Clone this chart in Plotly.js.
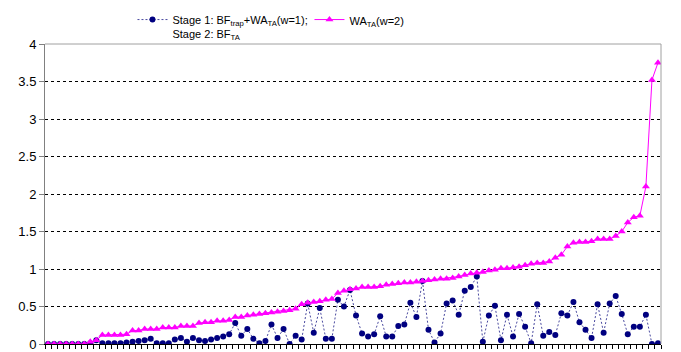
<!DOCTYPE html>
<html>
<head>
<meta charset="utf-8">
<script src="https://cdn.plot.ly/plotly-3.0.1.min.js"></script>
<style>
html,body{margin:0;padding:0;background:#fff;}
#chart{width:681px;height:352px;}
</style>
</head>
<body>
<div id="chart"></div>
<script>
const stage1Values = [
  0,0,0,0,0,0,0,
  0.01,0.05,0.01,0.01,0.01,0.01,0.02,0.03,0.04,0.05,0.07,0.01,0.01,0.01,0.06,0.08,0.03,0.08,0.05,0.04,0.06,0.08,0.10,0.13,0.28,0.11,0.20,0.07,0.01,
  0.04,0.26,0.08,0.20,0.00,0.11,0.06,0.54,0.15,0.48,0.07,0.07,0.59,0.50,0.72,0.38,0.14,0.10,0.13,0.37,0.10,0.10,0.24,0.26,0.55,0.36,0.84,0.19,0.02,0.14,
  0.54,0.58,0.39,0.71,0.76,0.90,0.03,0.38,0.51,0.05,0.39,0.10,0.40,0.23,0.01,0.53,0.11,0.16,0.12,0.41,0.38,0.56,0.29,0.19,0.08,0.53,0.15,0.54,0.64,0.40,
  0.13,0.23,0.23,0.39,0.00,0.01
];
const wa2Values = [
  0,0,0,0,0,0,0,
  0.03,0.05,0.12,0.12,0.12,0.12,0.13,0.18,0.18,0.20,0.20,0.20,0.22,0.22,0.22,0.24,0.24,0.24,0.28,0.29,0.29,0.31,0.31,0.32,0.36,0.36,0.38,0.39,0.40,
  0.41,0.42,0.43,0.44,0.45,0.47,0.53,0.55,0.56,0.57,0.59,0.60,0.68,0.71,0.73,0.74,0.76,0.76,0.76,0.77,0.79,0.80,0.81,0.82,0.82,0.83,0.84,0.85,0.86,0.87,
  0.87,0.88,0.90,0.92,0.94,0.95,0.96,0.98,0.99,1.01,1.01,1.02,1.03,1.05,1.07,1.08,1.08,1.10,1.15,1.19,1.30,1.35,1.36,1.36,1.37,1.40,1.40,1.40,1.44,1.50,
  1.62,1.69,1.71,2.10,3.52,3.75
];
const categories = stage1Values.map((_, i) => i + 1);
const yTickValues = [0,0.5,1,1.5,2,2.5,3,3.5,4];
const yTickLabels = ["0","0.5","1","1.5","2","2.5","3","3.5","4"];
const seriesNames = [
  "Stage 1: BF<sub>trap</sub>+WA<sub>TA</sub>(w=1);<br>Stage 2: BF<sub>TA</sub>",
  "WA<sub>TA</sub>(w=2)"
];

const font = "Arial, 'Liberation Sans', sans-serif";

const traces = [
  {
    x: categories, y: stage1Values, name: seriesNames[0],
    type: 'scatter', mode: 'lines+markers',
    line: {color: '#4a4aa0', width: 1, dash: '2px,2px'},
    marker: {color: '#000080', size: 6, symbol: 'circle'}
  },
  {
    x: categories, y: wa2Values, name: seriesNames[1],
    type: 'scatter', mode: 'lines+markers',
    line: {color: '#FF00FF', width: 1},
    marker: {color: '#FF00FF', size: 7, symbol: 'triangle-up'}
  }
];

const layout = {
  width: 681, height: 352,
  margin: {l: 45, r: 20, t: 44, b: 8, autoexpand: false},
  paper_bgcolor: '#ffffff', plot_bgcolor: '#ffffff',
  font: {family: font, size: 13, color: '#000'},
  showlegend: true,
  legend: {
    orientation: 'h', x: 0.142, y: 1.127, xanchor: 'left', yanchor: 'top',
    valign: 'top', font: {family: font, size: 11, color: '#000'},
    bgcolor: 'rgba(0,0,0,0)', itemwidth: 30, tracegroupgap: 0,
    entrywidth: 132
  },
  xaxis: {
    range: [0.5, categories.length + 0.5],
    showgrid: false, zeroline: false,
    showline: true, linecolor: '#000', linewidth: 1,
    ticks: 'outside', ticklen: 4, tickcolor: '#000', tickwidth: 1,
    tickmode: 'linear', tick0: 0.5, dtick: 1,
    showticklabels: false
  },
  yaxis: {
    range: [0, 4], tickmode: 'array', tickvals: yTickValues, ticktext: yTickLabels,
    showgrid: true, gridcolor: '#000', gridwidth: 1, griddash: 'dot',
    zeroline: false, showline: true, linecolor: '#808080', linewidth: 1,
    ticks: 'outside', ticklen: 5, tickcolor: '#808080',
    tickfont: {family: font, size: 13, color: '#000'}
  },
  shapes: [
    {type: 'line', xref: 'paper', yref: 'paper', x0: 0, x1: 1, y0: 1, y1: 1, line: {color: '#a0a0a0', width: 1}},
    {type: 'line', xref: 'paper', yref: 'paper', x0: 1, x1: 1, y0: 0, y1: 1, line: {color: '#a0a0a0', width: 1}}
  ]
};

Plotly.newPlot('chart', traces, layout, {displayModeBar: false, staticPlot: true});
</script>
</body>
</html>
